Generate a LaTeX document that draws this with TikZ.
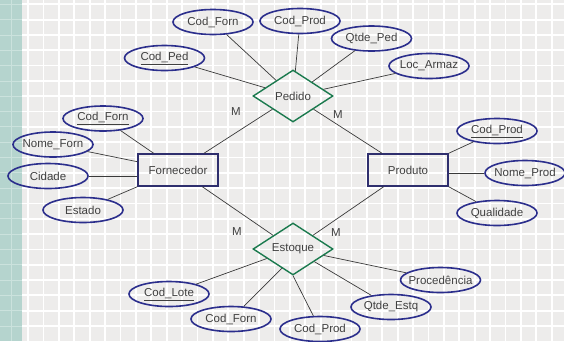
\documentclass[tikz,border=0pt]{standalone}
\usepackage{fontspec}
\setmainfont{Liberation Sans}
\usetikzlibrary{shapes.geometric}
\definecolor{bgc}{HTML}{EDECEB}
\definecolor{stripc}{HTML}{B5D4CE}
\definecolor{stripl}{HTML}{CBE2DD}
\definecolor{attrc}{HTML}{2B2E8C}
\definecolor{relc}{HTML}{1B7A4E}
\definecolor{entc}{HTML}{2F2F6E}
\definecolor{txtc}{HTML}{404040}
\definecolor{linec}{HTML}{3A3A3A}
\newcommand{\zb}[1]{\makebox[0pt]{#1}}
\begin{document}
\begin{tikzpicture}[x=1pt,y=-1pt,
 every node/.style={font=\fontsize{11.5}{13}\selectfont, text=txtc},
 attr/.style={ellipse, draw=attrc, line width=1.6pt, minimum width=80pt, minimum height=25pt, inner sep=0pt},
 ent/.style={rectangle, draw=entc, line width=1.5pt, minimum width=80pt, minimum height=32pt, inner sep=0pt},
 rel/.style={diamond, draw=relc, line width=1.4pt, minimum width=80pt, minimum height=52pt, inner sep=0pt},
 conn/.style={draw=linec, line width=0.7pt},
 card/.style={inner sep=0pt}]
\useasboundingbox (0,0) rectangle (564,341);
% background
\fill[bgc] (0,0) rectangle (564,341);
\foreach \i in {0,...,34} \draw[white, line width=1.8pt] ({28+15.4*\i},0) -- ({28+15.4*\i},341);
\foreach \j in {0,...,21} \draw[white, line width=1.8pt] (22,{4.3+15.32*\j}) -- (564,{4.3+15.32*\j});
\fill[stripc] (0,0) rectangle (22,341);
\foreach \j in {0,...,21} \draw[stripl, line width=0.8pt] (0,{4.3+15.32*\j}) -- (22,{4.3+15.32*\j});
\draw[stripl, line width=0.8pt] (11,0) -- (11,341);
% relationships and entities
\node[rel] (ped) at (293,96) {\zb{Pedido}};
\node[rel] (est) at (293,249) {\zb{Estoque}};
\node[ent] (forn) at (178,170) {\zb{Fornecedor}};
\node[ent] (prod) at (408,170) {\zb{Produto}};
% attributes
\node[attr] (a1) at (213,22) {\zb{Cod\_Forn}};
\node[attr] (a2) at (300,21) {\zb{Cod\_Prod}};
\node[attr] (a3) at (371.5,38.5) {\zb{Qtde\_Ped}};
\node[attr] (a4) at (429,66) {\zb{Loc\_Armaz}};
\node[attr] (a5) at (164.5,58) {\zb{\underline{Cod\_Ped}}};
\node[attr] (f1) at (103,118.5) {\zb{\underline{Cod\_Forn}}};
\node[attr] (f2) at (53,144.5) {\zb{Nome\_Forn}};
\node[attr] (f3) at (48,176) {\zb{Cidade}};
\node[attr] (f4) at (83,210) {\zb{Estado}};
\node[attr] (p1) at (497,131) {\zb{\underline{Cod\_Prod}}};
\node[attr] (p2) at (525,173) {\zb{Nome\_Prod}};
\node[attr] (p3) at (497,213) {\zb{Qualidade}};
\node[attr] (e1) at (440.5,280) {\zb{Procedência}};
\node[attr] (e2) at (391,307) {\zb{Qtde\_Estq}};
\node[attr] (e3) at (320,329) {\zb{Cod\_Prod}};
\node[attr] (e4) at (231,319) {\zb{Cod\_Forn}};
\node[attr] (e5) at (169,294) {\zb{\underline{Cod\_Lote}}};
% connectors
\draw[conn] (a1) -- (ped);
\draw[conn] (a2) -- (ped);
\draw[conn] (a3) -- (ped);
\draw[conn] (a4) -- (ped);
\draw[conn] (a5) -- (ped);
\draw[conn] (f1) -- (forn);
\draw[conn] (f2) -- (forn);
\draw[conn] (f3) -- (f3 -| forn.west);
\draw[conn] (f4) -- (forn.south west);
\draw[conn] (p1) -- (prod.north east);
\draw[conn] (p2) -- (p2 -| prod.east);
\draw[conn] (p3) -- (prod.south east);
\draw[conn] (ped) -- (forn);
\draw[conn] (ped) -- (prod);
\draw[conn] (est) -- (forn);
\draw[conn] (est) -- (prod);
\draw[conn] (e1) -- (est);
\draw[conn] (e2) -- (est);
\draw[conn] (e3) -- (est.south);
\draw[conn] (e4) -- (est.-120);
\draw[conn] (e5) -- (est);
% cardinalities
\node[card] (m1) at (236,112) {M};
\node[card] (m2) at (338,115) {M};
\node[card] (m3) at (237,232) {M};
\node[card] (m4) at (336,233) {M};
\end{tikzpicture}
\end{document}
